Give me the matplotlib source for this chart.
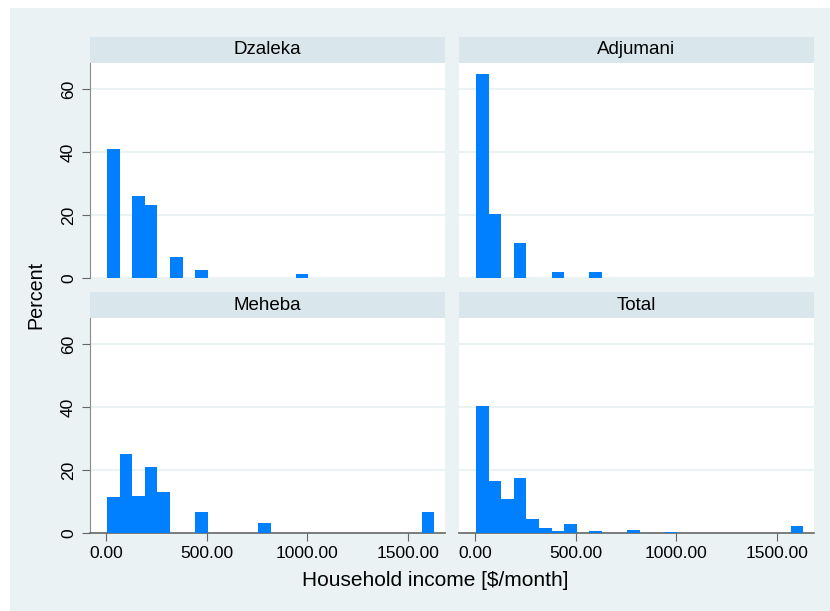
import matplotlib
matplotlib.use("Agg")
import matplotlib.pyplot as plt
from matplotlib.patches import Rectangle

plt.rcParams["font.family"] = ["Liberation Sans", "DejaVu Sans"]

# histogram bins: start and width in $/month
bin_start = 5.0
bin_width = 62.5
n_bins = 26

groups = ["Dzaleka", "Adjumani", "Meheba", "Total"]
# percent per bin (bin index -> percent)
dzaleka = {0: 41.0, 2: 26.0, 3: 23.2, 5: 6.6, 7: 2.5, 15: 1.3}
adjumani = {0: 64.8, 1: 20.3, 3: 11.1, 6: 1.9, 9: 1.9}
meheba = {0: 11.5, 1: 25.2, 2: 11.8, 3: 21.0, 4: 13.1, 7: 6.7, 12: 3.2, 25: 6.7}
total = {0: 40.4, 1: 16.6, 2: 10.8, 3: 17.5, 4: 4.5, 5: 1.6, 6: 0.6, 7: 2.9,
         9: 0.7, 12: 1.0, 15: 0.4, 25: 2.2}
series = [dzaleka, adjumani, meheba, total]

y_ticks = [0, 20, 40, 60]
x_ticks = [0, 500, 1000, 1500]
x_ticklabels = ["0.00", "500.00", "1000.00", "1500.00"]

W, H = 830, 611
BG = "#EAF2F3"
STRIP = "#D9E6EB"
BAR = "#0080FF"

fig = plt.figure(figsize=(W / 100, H / 100), dpi=100)
fig.patch.set_facecolor("white")
fig.patches.append(Rectangle((10 / W, 0), 1, 1 - 8 / H, transform=fig.transFigure,
                             facecolor=BG, edgecolor="none", zorder=-10))


def px(x0, y0, x1, y1):
    return [x0 / W, 1 - y1 / H, (x1 - x0) / W, (y1 - y0) / H]


cols = [(90, 445), (459, 814)]
rows = [(37, 63, 278), (292, 318, 533)]

for i, (name, data) in enumerate(zip(groups, series)):
    r, c = divmod(i, 2)
    x0, x1 = cols[c]
    ys, yp, yb = rows[r]
    # header strip
    hax = fig.add_axes(px(x0, ys, x1, yp))
    hax.set_facecolor(STRIP)
    hax.set_xticks([])
    hax.set_yticks([])
    for s in hax.spines.values():
        s.set_visible(False)
    hax.text(0.5, 0.5, name, ha="center", va="center", fontsize=13.5,
             transform=hax.transAxes)

    ax = fig.add_axes(px(x0, yp, x1, yb))
    ax.set_facecolor("white")
    idx = sorted(data)
    lefts = [bin_start + k * bin_width for k in idx]
    ax.bar(lefts, [data[k] for k in idx], width=bin_width, align="edge",
           color=BAR, edgecolor="none", zorder=3)
    ax.set_xlim(-80, 1683)
    ax.set_ylim(0, 68.4)
    ax.set_yticks(y_ticks)
    ax.grid(axis="y", color=BG, linewidth=1.5, zorder=1)
    for s in ["top", "right"]:
        ax.spines[s].set_visible(False)
    if c == 0:
        ax.spines["left"].set_color("#8a8a8a")
        ax.set_yticklabels([str(v) for v in y_ticks], rotation=90, va="center",
                           fontsize=12.5)
        ax.tick_params(axis="y", length=6, color="#666666", pad=4)
    else:
        ax.spines["left"].set_visible(False)
        ax.tick_params(axis="y", length=0, labelleft=False)
    if r == 1:
        ax.spines["bottom"].set_color("#666666")
        ax.spines["bottom"].set_linewidth(1.2)
        ax.set_xticks(x_ticks)
        ax.set_xticklabels(x_ticklabels, fontsize=12.5)
        ax.tick_params(axis="x", length=6, color="#666666", pad=3)
    else:
        ax.spines["bottom"].set_visible(False)
        ax.set_xticks([])

fig.text(435 / W, 1 - 581 / H, "Household income [$/month]", ha="center",
         va="center", fontsize=15)
fig.text(36 / W, 1 - 295 / H, "Percent", ha="center", va="center",
         rotation=90, fontsize=14.2)

fig.savefig("out.png", dpi=100, facecolor=fig.get_facecolor())
